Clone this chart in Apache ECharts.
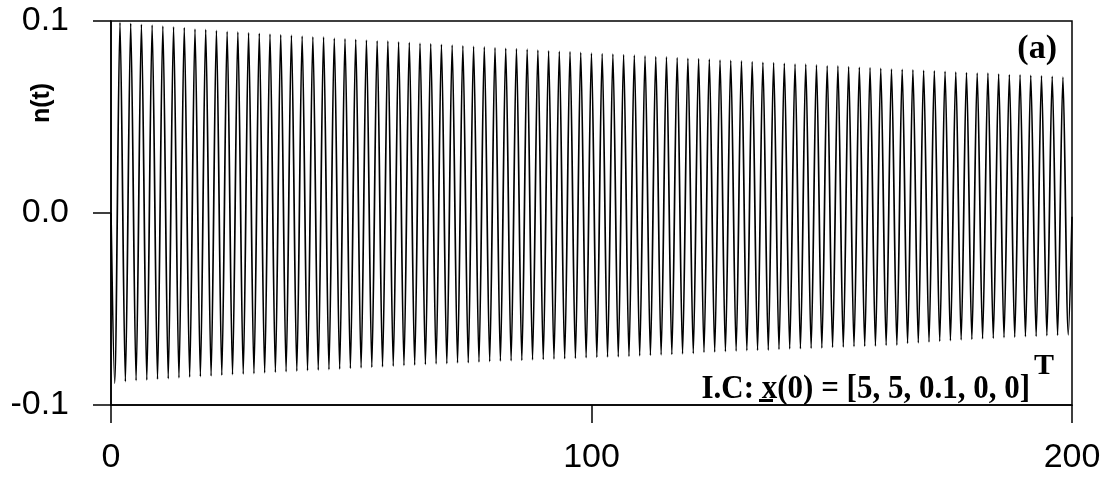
<!DOCTYPE html>
<html>
<head>
<meta charset="utf-8">
<script src="https://cdn.jsdelivr.net/npm/echarts@6/dist/echarts.min.js"></script>
<style>
  html, body { margin: 0; padding: 0; background: #fff; }
  #chart { width: 1107px; height: 485px; }
</style>
</head>
<body>
<div id="chart"></div>
<script>
// times (t) and values n(t) of each trough / crest
const tTrough = [0.76, 2.99, 5.22, 7.45, 9.68, 11.91, 14.14, 16.37, 18.60, 20.83,
  23.06, 25.29, 27.52, 29.75, 31.98, 34.21, 36.44, 38.67, 40.90, 43.13,
  45.36, 47.59, 49.82, 52.05, 54.28, 56.51, 58.74, 60.97, 63.20, 65.43,
  67.66, 69.89, 72.12, 74.35, 76.58, 78.81, 81.04, 83.27, 85.50, 87.73,
  89.96, 92.19, 94.42, 96.65, 98.88, 101.11, 103.34, 105.57, 107.80, 110.03,
  112.26, 114.49, 116.72, 118.95, 121.18, 123.41, 125.64, 127.87, 130.10, 132.33,
  134.56, 136.79, 139.02, 141.25, 143.48, 145.71, 147.94, 150.17, 152.40, 154.63,
  156.86, 159.09, 161.32, 163.55, 165.78, 168.01, 170.24, 172.47, 174.70, 176.93,
  179.16, 181.39, 183.62, 185.85, 188.08, 190.31, 192.54, 194.77, 197.00, 199.23];
const nTrough = [-0.0887, -0.0878, -0.0873, -0.0870, -0.0866, -0.0863, -0.0859, -0.0855, -0.0852, -0.0849,
  -0.0845, -0.0842, -0.0839, -0.0837, -0.0833, -0.0830, -0.0827, -0.0824, -0.0821, -0.0818,
  -0.0816, -0.0813, -0.0809, -0.0807, -0.0804, -0.0801, -0.0798, -0.0795, -0.0792, -0.0790,
  -0.0786, -0.0785, -0.0781, -0.0780, -0.0776, -0.0774, -0.0771, -0.0770, -0.0768, -0.0765,
  -0.0763, -0.0761, -0.0759, -0.0757, -0.0754, -0.0752, -0.0750, -0.0749, -0.0747, -0.0744,
  -0.0742, -0.0739, -0.0737, -0.0734, -0.0732, -0.0726, -0.0724, -0.0722, -0.0719, -0.0717,
  -0.0715, -0.0714, -0.0710, -0.0708, -0.0707, -0.0705, -0.0703, -0.0700, -0.0698, -0.0696,
  -0.0694, -0.0693, -0.0689, -0.0688, -0.0679, -0.0676, -0.0672, -0.0668, -0.0665, -0.0661,
  -0.0658, -0.0655, -0.0653, -0.0649, -0.0647, -0.0644, -0.0642, -0.0639, -0.0637, -0.0635];
const tPeak = [1.87, 4.10, 6.33, 8.56, 10.79, 13.02, 15.25, 17.48, 19.71, 21.94,
  24.17, 26.40, 28.63, 30.86, 33.09, 35.32, 37.55, 39.78, 42.01, 44.24,
  46.47, 48.70, 50.93, 53.16, 55.39, 57.62, 59.85, 62.08, 64.31, 66.54,
  68.77, 71.00, 73.23, 75.46, 77.69, 79.92, 82.15, 84.38, 86.61, 88.84,
  91.07, 93.30, 95.53, 97.76, 99.99, 102.22, 104.45, 106.68, 108.91, 111.14,
  113.37, 115.60, 117.83, 120.06, 122.29, 124.52, 126.75, 128.98, 131.21, 133.44,
  135.67, 137.90, 140.13, 142.36, 144.59, 146.82, 149.05, 151.28, 153.51, 155.74,
  157.97, 160.20, 162.43, 164.66, 166.89, 169.12, 171.35, 173.58, 175.81, 178.04,
  180.27, 182.50, 184.73, 186.96, 189.19, 191.42, 193.65, 195.88, 198.11];
const nPeak = [0.0993, 0.0988, 0.0983, 0.0979, 0.0974, 0.0970, 0.0966, 0.0958, 0.0956, 0.0951,
  0.0946, 0.0943, 0.0939, 0.0936, 0.0932, 0.0929, 0.0926, 0.0922, 0.0918, 0.0917,
  0.0911, 0.0908, 0.0905, 0.0901, 0.0897, 0.0896, 0.0892, 0.0889, 0.0885, 0.0882,
  0.0879, 0.0875, 0.0871, 0.0868, 0.0865, 0.0861, 0.0858, 0.0856, 0.0853, 0.0849,
  0.0845, 0.0842, 0.0840, 0.0837, 0.0833, 0.0830, 0.0828, 0.0825, 0.0822, 0.0818,
  0.0814, 0.0813, 0.0809, 0.0806, 0.0804, 0.0801, 0.0797, 0.0795, 0.0792, 0.0788,
  0.0785, 0.0783, 0.0780, 0.0776, 0.0775, 0.0771, 0.0767, 0.0766, 0.0762, 0.0759,
  0.0757, 0.0754, 0.0750, 0.0748, 0.0745, 0.0743, 0.0740, 0.0738, 0.0734, 0.0731,
  0.0729, 0.0728, 0.0724, 0.0720, 0.0719, 0.0717, 0.0714, 0.0712, 0.0708];
const startPoint = [0, 0.0];
const endPoint = [200, -0.002];

const xTicks = [0, 100, 200];
const yTicks = [-0.1, 0.0, 0.1];

// walk trough -> crest -> trough ... in time order
const pts = [startPoint];
for (let i = 0; i < tTrough.length; i++) {
  pts.push([tTrough[i], nTrough[i]]);
  if (i < tPeak.length) pts.push([tPeak[i], nPeak[i]]);
}
pts.push(endPoint);

const chart = echarts.init(document.getElementById('chart'));

const option = {
  animation: false,
  backgroundColor: '#fff',
  grid: {
    left: 111, right: 35, top: 21, bottom: 80,
    show: true, borderColor: '#000', borderWidth: 1.5
  },
  xAxis: {
    type: 'value',
    min: xTicks[0], max: xTicks[2], interval: 100,
    axisLine: { onZero: false, lineStyle: { color: '#000', width: 1.5 } },
    axisTick: { show: true, length: 18, lineStyle: { color: '#000', width: 1.5 } },
    axisLabel: { margin: 36, color: '#000', fontSize: 34, fontFamily: 'Liberation Sans' },
    splitLine: { show: false }
  },
  yAxis: {
    type: 'value',
    min: yTicks[0], max: yTicks[2], interval: 0.1,
    axisLine: { onZero: false, lineStyle: { color: '#000', width: 1.5 } },
    axisTick: { show: true, length: 18, lineStyle: { color: '#000', width: 1.5 } },
    axisLabel: {
      margin: 42, color: '#000', fontSize: 34, fontFamily: 'Liberation Sans',
      formatter: v => v.toFixed(1)
    },
    splitLine: { show: false }
  },
  graphic: [
    {
      // axis title, rotated
      type: 'text', x: 42, y: 103, rotation: Math.PI / 2,
      style: { text: 'n(t)', align: 'center', verticalAlign: 'middle',
        font: 'bold 25px "Liberation Sans"', fill: '#000' }
    },
    {
      type: 'text', x: 1057, y: 66,
      style: { text: '(a)', align: 'right', verticalAlign: 'bottom',
        font: 'bold 34px "Liberation Serif"', fill: '#000' }
    },
    {
      type: 'text', x: 1030, y: 406, scaleY: 1.12,
      style: {
        text: 'I.C: x(0) = [5, 5, 0.1, 0, 0]',
        align: 'right', verticalAlign: 'bottom',
        font: 'bold 31px "Liberation Serif"', fill: '#000'
      }
    },
    {
      // underline under the vector x
      type: 'rect', shape: { x: 759, y: 399, width: 14, height: 3 },
      style: { fill: '#000' }
    },
    {
      type: 'text', x: 1034, y: 381,
      style: { text: 'T', align: 'left', verticalAlign: 'bottom',
        font: 'bold 30px "Liberation Serif"', fill: '#000' }
    }
  ],
  series: [
    {
      type: 'line',
      data: pts,
      showSymbol: false,
      smooth: 0.3,
      lineStyle: { color: '#000', width: 1.7 }
    }
  ]
};

chart.setOption(option);
</script>
</body>
</html>
